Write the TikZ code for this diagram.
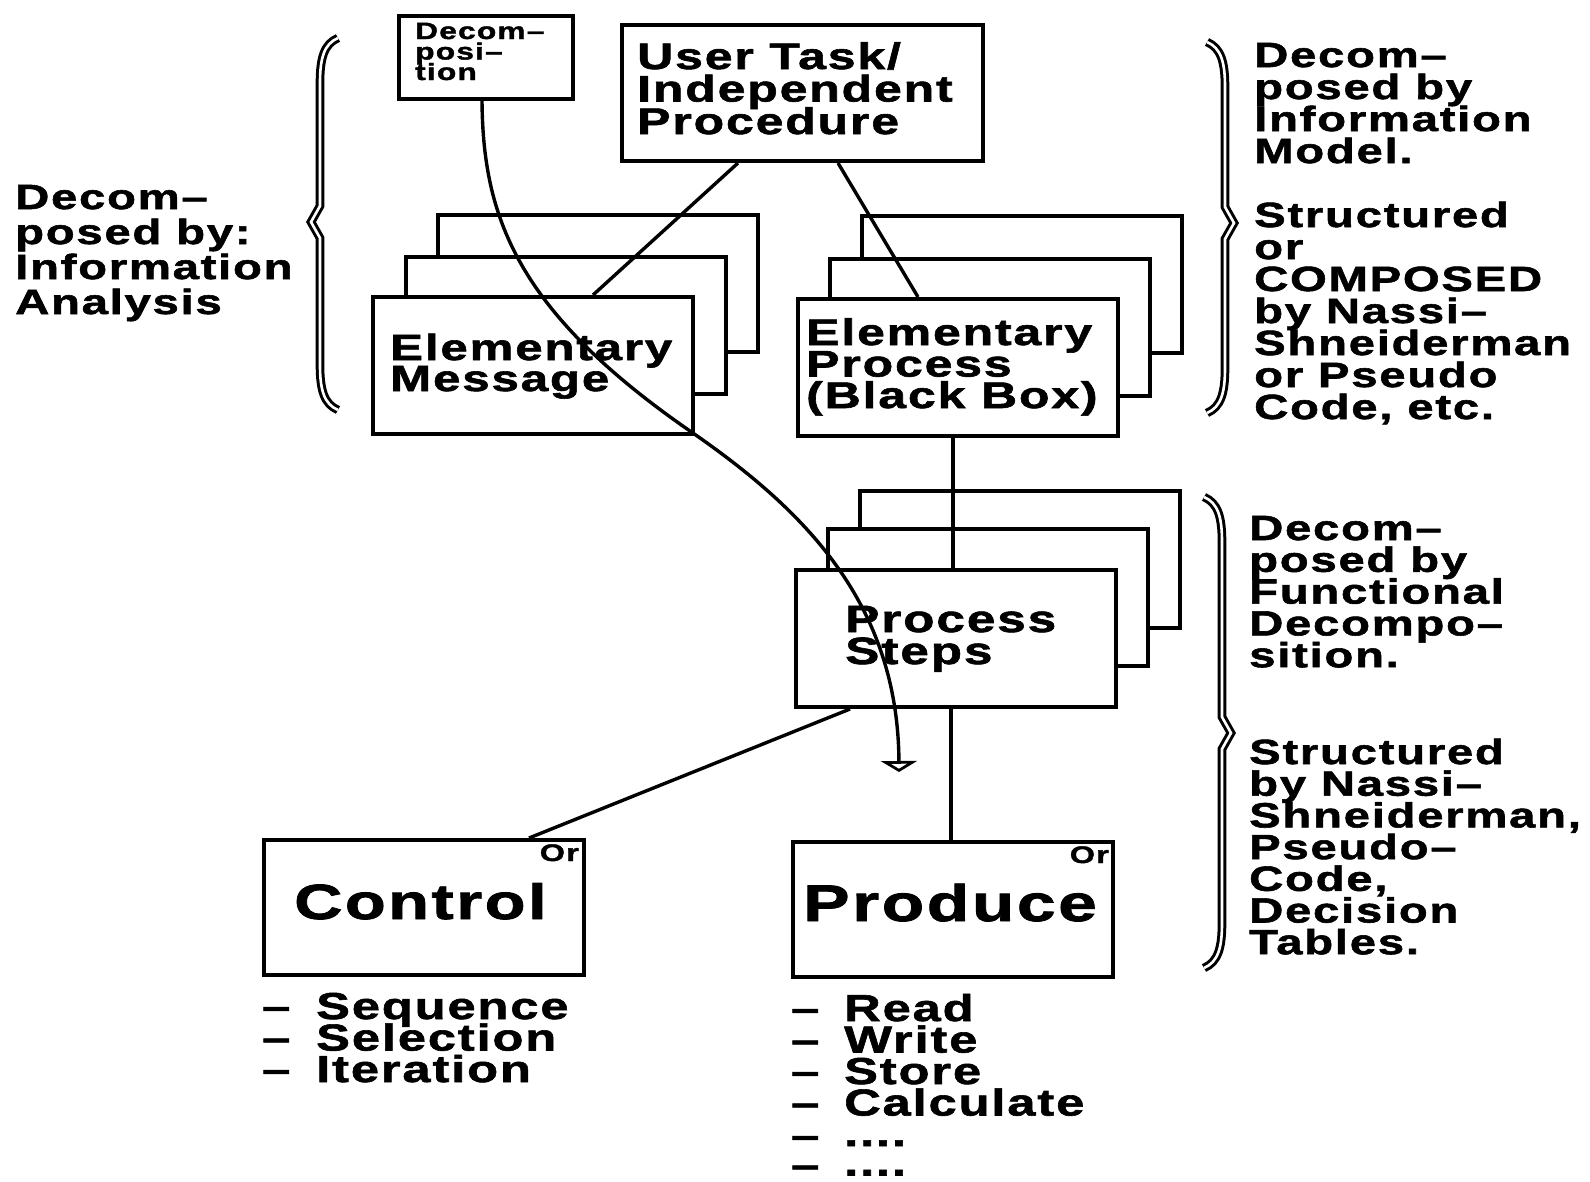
\documentclass[tikz,border=0pt]{standalone}
\usepackage{fontspec}
\setmainfont{Liberation Sans}[FakeStretch=1.35, LetterSpace=5, FakeBold=1.6]
\usetikzlibrary{arrows.meta}
\newcommand{\fsz}[2]{\fontsize{#1}{#2}\selectfont\bfseries}
% lines stacked at a fixed baseline distance; baseline = first line
\newcommand{\stk}[1]{\vtop{\lineskiplimit=-100pt\lineskip=0pt\halign{##\hfil\cr#1\crcr}}}
% brace opening to the right: x, top y, notch y, bottom y
\newcommand{\bracelft}[4]{%
  \draw[brc] ({#1+18},#2) .. controls ({#1+4},{#2+6}) and (#1,{#2+20}) .. (#1,{#2+45})
    -- (#1,{#3-16}) -- ({#1-9},#3) -- (#1,{#3+16}) -- (#1,{#4-45})
    .. controls (#1,{#4-20}) and ({#1+4},{#4-6}) .. ({#1+18},#4);}
% brace opening to the left
\newcommand{\bracergt}[4]{%
  \draw[brc] ({#1-18},#2) .. controls ({#1-4},{#2+6}) and (#1,{#2+20}) .. (#1,{#2+45})
    -- (#1,{#3-16}) -- ({#1+9},#3) -- (#1,{#3+16}) -- (#1,{#4-45})
    .. controls (#1,{#4-20}) and ({#1-4},{#4-6}) .. ({#1-18},#4);}
\begin{document}
\begin{tikzpicture}[x=1pt,y=-1pt,
  box/.style={draw, line width=4pt, fill=white, inner sep=0, anchor=north west},
  sheet/.style={box, minimum width=320pt, minimum height=137pt},
  txt/.style={inner sep=0, anchor=base west},
  link/.style={line width=3.4pt},
  brc/.style={line width=3pt, double, double distance=2.6pt}]
\useasboundingbox (0,0) rectangle (1590,1181);

% top boxes
\node[box, minimum width=174pt, minimum height=83pt] (dec) at (397,14) {};
\node[box, minimum width=361pt, minimum height=136pt] (ut) at (620,23) {};

% stacked sheets: elementary message
\node[sheet] (emC) at (436,213) {};
\node[sheet] (emB) at (404,255) {};
\node[sheet] (emA) at (371,295) {};
% stacked sheets: elementary process
\node[sheet] (epC) at (860,214) {};
\node[sheet] (epB) at (828,257) {};
\node[sheet] (epA) at (796,297) {};
% stacked sheets: process steps
\node[sheet] (psC) at (858,489) {};
\node[sheet] (psB) at (826,527) {};
\node[sheet] (psA) at (794,568) {};

% bottom boxes
\node[sheet, minimum height=135pt] (ctl) at (262,838) {};
\node[sheet, minimum height=135pt] (prd) at (791,840) {};

% texts inside boxes
\node[txt, font=\fsz{23.5}{20.5}] (tdec) at (415,39) {\stk{Decom–\cr posi–\cr tion}};
\node[txt, font=\fsz{37}{32.5}] (tut) at (637,69) {\stk{User Task/\cr Independent\cr Procedure}};
\node[txt, font=\fsz{36.5}{31}] (tem) at (390,360) {\stk{Elementary\cr Message}};
\node[txt, font=\fsz{37}{31.5}] (tep) at (806,345) {\stk{Elementary\cr Process\cr (Black Box)}};
\node[txt, font=\fsz{38}{32}] (tps) at (845,632) {\stk{Process\cr Steps}};
\node[txt, font=\fsz{49.5}{49}] (tctl) at (294,919) {Control};
\node[txt, font=\fsz{51.5}{50}] (tprd) at (803,921) {Produce};
\node[txt, anchor=base east, font=\fsz{24}{24}] (orc) at (579,861) {Or};
\node[txt, anchor=base east, font=\fsz{24}{24}] (orp) at (1109,863) {Or};

% lists under the bottom boxes
\node[txt, font=\fsz{37.5}{31.5}] (dctl) at (262,1019) {\stk{–\cr –\cr –}};
\node[txt, font=\fsz{37.5}{31.5}] (lctl) at (316,1019) {\stk{Sequence\cr Selection\cr Iteration}};
\node[txt, font=\fsz{37.5}{31.5}] (dprd) at (791,1021) {\stk{–\cr –\cr –\cr –}};
\node[txt, font=\fsz{37.5}{31.5}] (lprd) at (844,1021) {\stk{Read\cr Write\cr Store\cr Calculate}};
\node[txt, font=\fsz{37.5}{29.5}] (dmore) at (791,1148) {\stk{–\cr –}};
\node[txt, font=\fsz{37.5}{29.5}] (lmore) at (844,1146) {\stk{....\cr ....}};

% side notes
\node[txt, font=\fsz{35}{35}] (nleft) at (15,209) {\stk{Decom–\cr posed by:\cr Information\cr Analysis}};
\node[txt, font=\fsz{35}{32}] (nr1) at (1254,67) {\stk{Decom–\cr posed by\cr Information\cr Model.}};
\node[txt, font=\fsz{35}{32}] (nr2) at (1254,227) {\stk{Structured\cr or\cr COMPOSED\cr by Nassi–\cr Shneiderman\cr or Pseudo\cr Code, etc.}};
\node[txt, font=\fsz{35}{31.8}] (nr3) at (1249,540) {\stk{Decom–\cr posed by\cr Functional\cr Decompo–\cr sition.}};
\node[txt, font=\fsz{35}{31.7}] (nr4) at (1249,764) {\stk{Structured\cr by Nassi–\cr Shneiderman,\cr Pseudo–\cr Code,\cr Decision\cr Tables.}};

% braces
\bracelft{320}{38}{222}{410}
\bracergt{1225}{42}{223}{413}
\bracergt{1222}{497}{733}{968}

% connectors
\draw[link] ([xshift=118pt]ut.south west) -- ([xshift=222pt]emA.north west);
\draw[link] ([xshift=218pt]ut.south west) -- ([xshift=122pt]epA.north west);
\draw[link] ([xshift=157pt]epA.south west) -- ([xshift=159pt]psA.north west);
\draw[link] ([xshift=157pt]psA.south west) -- ([xshift=160pt]prd.north west);
\draw[link] ([xshift=56pt]psA.south west) -- ([xshift=267pt]ctl.north west);

% decomposition arrow
\coordinate (bend) at (690,431);
\coordinate (tip) at (899,772);
\draw[link, -{Triangle[open, length=11pt, width=36pt]}]
  ([xshift=85pt]dec.south west) .. controls (483,215) and (515,310) .. (bend)
  .. controls (800,507) and (898,600) .. (tip);
\end{tikzpicture}
\end{document}
